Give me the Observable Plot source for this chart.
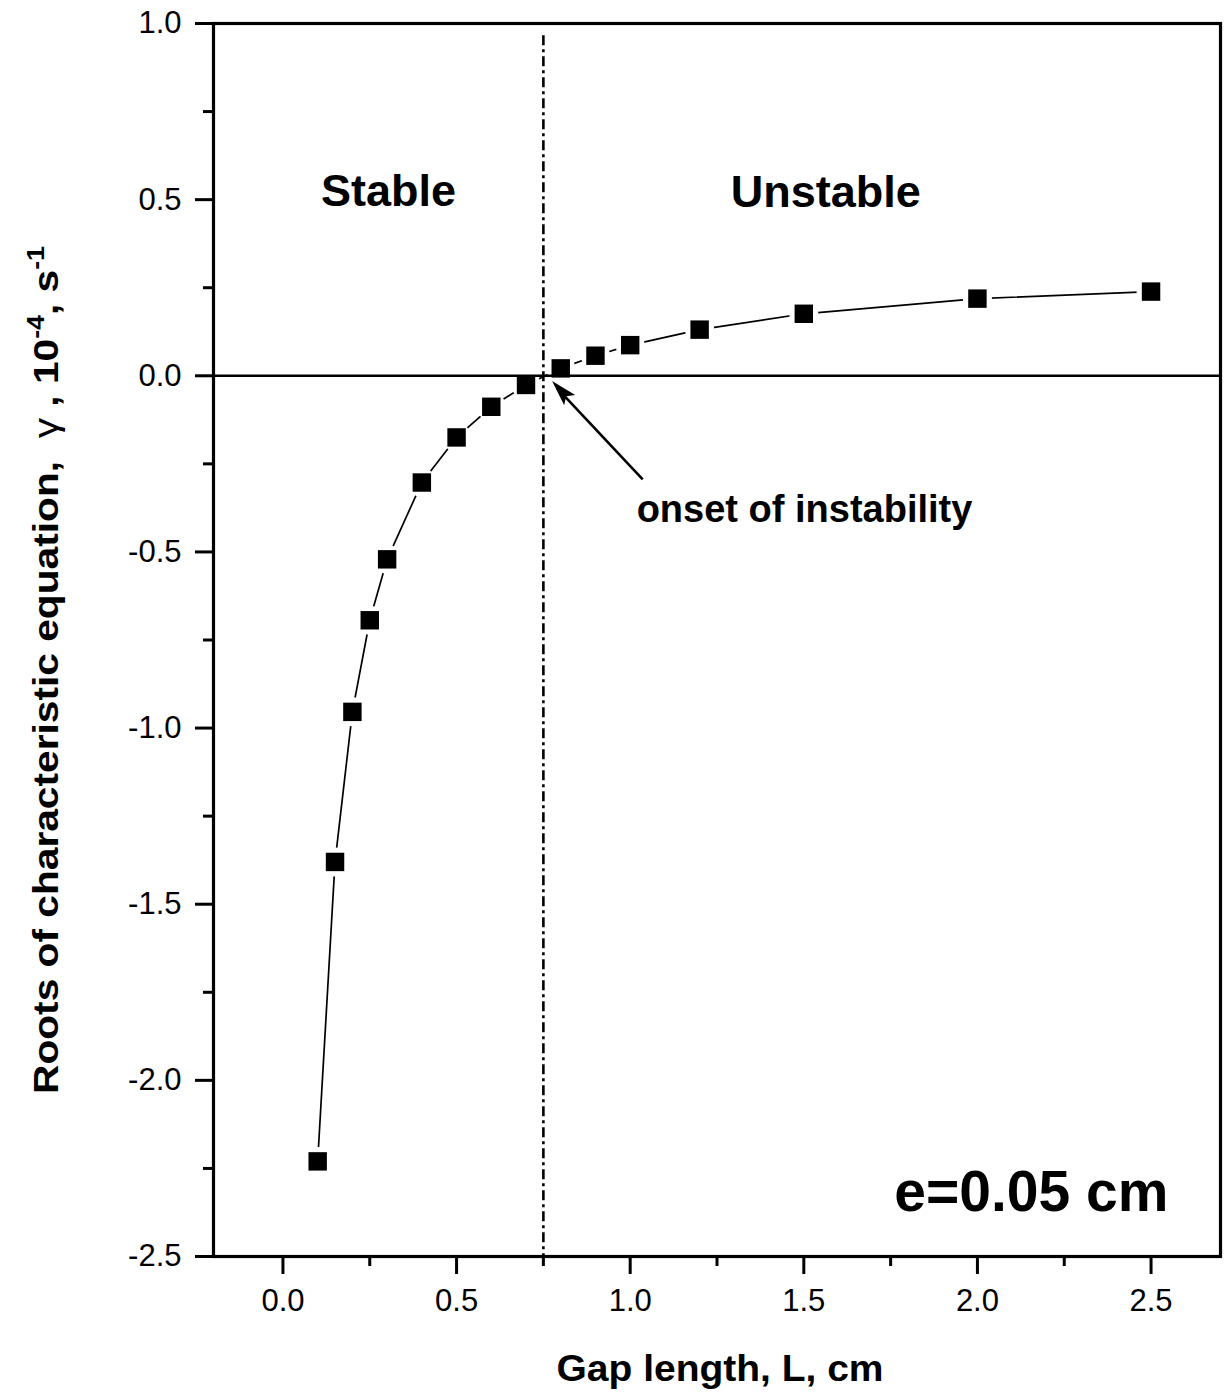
<!DOCTYPE html>
<html><head><meta charset="utf-8">
<script src="https://cdn.jsdelivr.net/npm/d3@7"></script>
<script src="https://cdn.jsdelivr.net/npm/@observablehq/plot@0.6"></script>
<style>html,body{margin:0;padding:0;background:#fff} svg{display:block}</style>
</head><body><div id="chart"></div>
<script>
const gapLength = [0.1, 0.15, 0.2, 0.25, 0.3, 0.4, 0.5, 0.6, 0.7, 0.8, 0.9, 1.0, 1.2, 1.5, 2.0, 2.5];
const gammaRoot = [-2.23, -1.38, -0.954, -0.694, -0.521, -0.303, -0.175, -0.088, -0.026, 0.021, 0.057, 0.087, 0.131, 0.176, 0.219, 0.239];
const xMajorTicks = [0, 0.5, 1.0, 1.5, 2.0, 2.5];
const xMinorTicks = [0.25, 0.75, 1.25, 1.75, 2.25];
const yMajorTicks = [-2.5, -2.0, -1.5, -1.0, -0.5, 0, 0.5, 1.0];
const yMinorTicks = [-2.25, -1.75, -1.25, -0.75, -0.25, 0.25, 0.75];
const onsetL = 0.75;
const xLabel = "Gap length, L, cm";
const yLabel = "Roots of characteristic equation,\u00a0\u00a0γ , 10-4, s-1";
const regionLabels = ["Stable", "Unstable"];
const arrowLabel = "onset of instability";
const caseLabel = "e=0.05 cm";

const points = gapLength.map((L, i) => ({L, g: gammaRoot[i]}));
const fmt = d => d.toFixed(1);
const FONT = "'Liberation Sans', Arial, Helvetica, sans-serif";

const plot = Plot.plot({
  width: 1224,
  height: 1395,
  marginLeft: 213,
  marginRight: 4,
  marginTop: 23,
  marginBottom: 139,
  style: {fontFamily: FONT, fontSize: "31px", color: "black", background: "white", overflow: "visible"},
  x: {domain: [-0.2, 2.7]},
  y: {domain: [-2.5, 1.0]},
  marks: [
    Plot.line(points, {x: "L", y: "g", stroke: "black", strokeWidth: 1.7}),
    Plot.dot(points, {x: "L", y: "g", r: 14.5, fill: "white", stroke: "none"}),
    Plot.ruleY([0], {stroke: "black", strokeWidth: 2.4}),
    Plot.ruleX([onsetL], {y1: 0.965, y2: -2.5, stroke: "black", strokeWidth: 2.6, strokeDasharray: "10,4,3,4"}),
    Plot.dot(points, {x: "L", y: "g", symbol: "square", r: 10.4, fill: "black", stroke: "none"}),
    Plot.link([{x1: 1.036, y1: -0.294, x2: 0.79, y2: -0.036}], {x1: "x1", y1: "y1", x2: "x2", y2: "y2", stroke: "black", strokeWidth: 2.6}),
    Plot.text([regionLabels[0]], {x: 0.304, y: 0.483, text: d => d, fontSize: 45, fontWeight: "bold", lineAnchor: "bottom"}),
    Plot.text([regionLabels[1]], {x: 1.563, y: 0.478, text: d => d, fontSize: 45, fontWeight: "bold", lineAnchor: "bottom"}),
    Plot.text([arrowLabel], {x: 1.502, y: -0.414, text: d => d, fontSize: 38, fontWeight: "bold", lineAnchor: "bottom"}),
    Plot.text([caseLabel], {x: 2.55, y: -2.372, text: d => d, fontSize: 57, fontWeight: "bold", lineAnchor: "bottom", textAnchor: "end"}),
    Plot.axisY(yMajorTicks, {anchor: "left", tickSize: 18, tickPadding: 14, tickFormat: fmt, fontSize: 31, stroke: "black", strokeWidth: 3, label: null}),
    Plot.axisY(yMinorTicks, {anchor: "left", tickSize: 10, text: null, stroke: "black", strokeWidth: 3, label: null}),
    Plot.axisX(xMajorTicks, {anchor: "bottom", tickSize: 18, tickPadding: 14, tickFormat: fmt, fontSize: 31, stroke: "black", strokeWidth: 3, label: null}),
    Plot.axisX(xMinorTicks, {anchor: "bottom", tickSize: 10, text: null, stroke: "black", strokeWidth: 3, label: null}),
    Plot.frame({stroke: "black", strokeWidth: 3.2}),
    Plot.text([xLabel], {frameAnchor: "bottom", dx: 3, dy: 124, text: d => d, fontSize: 37, fontWeight: "bold", lineAnchor: "bottom", textAnchor: "middle"}),
    Plot.text([yLabel], {frameAnchor: "left", dx: -156, dy: 30, rotate: -90, text: d => d, fontSize: 35, fontWeight: "bold", lineAnchor: "bottom", textAnchor: "middle"})
  ]
});

document.getElementById("chart").appendChild(plot);

const svgNS = "http://www.w3.org/2000/svg";
const allTexts = [...plot.querySelectorAll("text")];

// Superscripts and the upright gamma in the y label
const yText = allTexts.find(e => e.textContent === yLabel);
if (yText) {
  yText.textContent = "";
  const parts = [
    {s: "Roots of characteristic equation,\u00a0\u00a0"},
    {s: "γ", normal: true},
    {s: " , 10"},
    {s: "-4", sup: true},
    {s: ", s"},
    {s: "-1", sup: true}
  ];
  let shifted = false;
  for (const p of parts) {
    const ts = document.createElementNS(svgNS, "tspan");
    ts.textContent = p.s;
    if (p.normal) ts.setAttribute("font-weight", "normal");
    if (p.sup) { ts.setAttribute("font-size", "23"); ts.setAttribute("dy", "-14"); shifted = true; }
    else if (shifted) { ts.setAttribute("dy", "14"); shifted = false; }
    yText.appendChild(ts);
  }
  yText.setAttribute("textLength", "848");
  yText.setAttribute("lengthAdjust", "spacingAndGlyphs");
}
const xText = allTexts.find(e => e.textContent === xLabel);
if (xText) {
  xText.setAttribute("textLength", "327");
  xText.setAttribute("lengthAdjust", "spacingAndGlyphs");
}

// Filled arrow head at the tip of the annotation arrow
const sx = plot.scale("x"), sy = plot.scale("y");
const tip = [sx.apply(0.7765), sy.apply(-0.016)];
const tail = [sx.apply(1.036), sy.apply(-0.294)];
const dx = tail[0] - tip[0], dy = tail[1] - tip[1], len = Math.hypot(dx, dy);
const ux = dx / len, uy = dy / len, nx = -uy, ny = ux;
const hl = 26, hw = 7.5;
const poly = document.createElementNS(svgNS, "polygon");
poly.setAttribute("points", [
  tip,
  [tip[0] + ux * hl + nx * hw, tip[1] + uy * hl + ny * hw],
  [tip[0] + ux * hl * 0.8, tip[1] + uy * hl * 0.8],
  [tip[0] + ux * hl - nx * hw, tip[1] + uy * hl - ny * hw]
].map(p => p.join(",")).join(" "));
poly.setAttribute("fill", "black");
plot.appendChild(poly);
</script>
</body></html>
